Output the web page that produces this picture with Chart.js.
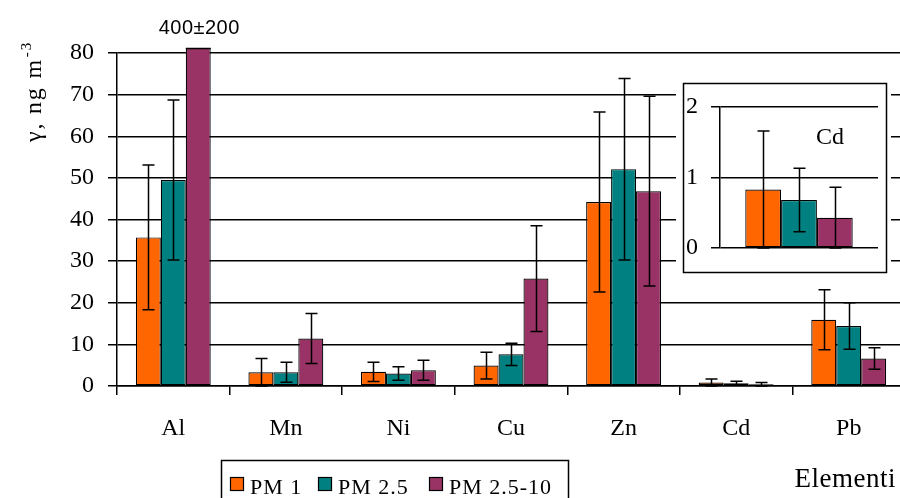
<!DOCTYPE html>
<html>
<head>
<meta charset="utf-8">
<script src="https://cdn.jsdelivr.net/npm/chart.js@4/dist/chart.umd.min.js"></script>
<style>
  html, body { margin: 0; padding: 0; background: #fff; }
  #wrap { position: relative; width: 900px; height: 498px; overflow: hidden; }
  #main { position: absolute; left: 0; top: 0; }
  #inset { position: absolute; left: 676px; top: 78px; }
</style>
</head>
<body>
<div id="wrap">
  <canvas id="main" width="908" height="498"></canvas>
  <canvas id="inset" width="215" height="199"></canvas>
</div>
<script>
// Element concentrations (ng/m3) by particle size fraction, with standard deviations
const categories = ['Al', 'Mn', 'Ni', 'Cu', 'Zn', 'Cd', 'Pb'];
const seriesNames = ['PM 1', 'PM 2.5', 'PM 2.5-10'];
const pm1      = [35.7, 3.3, 3.4, 4.9, 44.2, 0.83, 15.9];
const pm1Err   = [17.4, 3.3, 2.3, 3.2, 21.6, 0.83, 7.2];
const pm25     = [49.5, 3.3, 3.0, 7.6, 52.1, 0.68, 14.4];
const pm25Err  = [19.2, 2.4, 1.6, 2.7, 21.8, 0.45, 5.6];
const pm2510   = [400, 11.4, 3.8, 25.8, 46.8, 0.43, 6.6];
const pm2510Err= [200, 6.0, 2.4, 12.7, 22.8, 0.43, 2.6];
const yTicksMain = [0, 10, 20, 30, 40, 50, 60, 70, 80];
const yTicksInset = [0, 1, 2];
const insetCategory = 'Cd';

const colors = ['#FF6600', '#008080', '#993366'];
const SERIF = '"Liberation Serif", "Times New Roman", serif';
const SANS = '"Liberation Sans", Arial, sans-serif';

Chart.defaults.color = '#000';
Chart.defaults.animation = false;

const allValues = [pm1, pm25, pm2510];
const allErrors = [pm1Err, pm25Err, pm2510Err];

// Error bars (mean ± sd) drawn over each bar
const errorBars = {
  id: 'errorBars',
  afterDatasetsDraw(chart) {
    const ctx = chart.ctx, y = chart.scales.y, area = chart.chartArea;
    ctx.save();
    ctx.beginPath();
    ctx.rect(area.left - 20, area.top - 6, area.right - area.left + 40, area.bottom - area.top + 12);
    ctx.clip();
    ctx.strokeStyle = '#000';
    ctx.lineWidth = 1.5;
    chart.data.datasets.forEach((ds, i) => {
      const meta = chart.getDatasetMeta(i);
      meta.data.forEach((bar, j) => {
        const v = ds.data[j], e = ds.errors[j];
        if (v > y.max) {
          // bar runs off the scale: close its top edge at the clip line
          ctx.beginPath();
          ctx.moveTo(bar.x - bar.width / 2, area.top - 4.5);
          ctx.lineTo(bar.x + bar.width / 2, area.top - 4.5);
          ctx.stroke();
          return;
        }
        const top = y.getPixelForValue(v + e);
        const bot = y.getPixelForValue(Math.max(v - e, 0));
        const x = Math.round(bar.x) + 0.5;
        ctx.beginPath();
        ctx.moveTo(x, top); ctx.lineTo(x, bot);
        ctx.moveTo(x - 6, top); ctx.lineTo(x + 6, top);
        ctx.moveTo(x - 6, bot); ctx.lineTo(x + 6, bot);
        ctx.stroke();
      });
    });
    ctx.restore();
  }
};

// Texts of the main chart: off-scale value label, axis titles, legend
const mainDecor = {
  id: 'mainDecor',
  afterDraw(chart) {
    const ctx = chart.ctx, y = chart.scales.y;
    ctx.save();
    ctx.fillStyle = '#000';

    // value label for bars that run past the top of the axis
    ctx.font = '20px ' + SANS;
    ctx.textAlign = 'center';
    ctx.textBaseline = 'middle';
    ctx.letterSpacing = '0.5px';
    chart.data.datasets.forEach((ds, i) => {
      const meta = chart.getDatasetMeta(i);
      meta.data.forEach((bar, j) => {
        if (ds.data[j] > y.max) {
          ctx.fillText(ds.data[j] + '±' + ds.errors[j], bar.x + 1, chart.chartArea.top - 25);
        }
      });
    });

    // y axis title with superscript
    ctx.save();
    ctx.translate(41, 142);
    ctx.rotate(-Math.PI / 2);
    ctx.textAlign = 'left';
    ctx.textBaseline = 'alphabetic';
    ctx.letterSpacing = '1.8px';
    ctx.font = '24px ' + SERIF;
    const t = 'γ, ng m';
    ctx.fillText(t, 0, 0);
    const w = ctx.measureText(t).width;
    ctx.font = '15px ' + SERIF;
    ctx.fillText('-3', w + 1, -10);
    ctx.restore();

    // x axis title
    ctx.font = '27px ' + SERIF;
    ctx.textAlign = 'right';
    ctx.textBaseline = 'alphabetic';
    ctx.letterSpacing = '0.5px';
    ctx.fillText('Elementi', 896, 487);

    // legend
    ctx.lineWidth = 1.5;
    ctx.strokeStyle = '#000';
    ctx.strokeRect(221.5, 460.5, 347, 50);
    const boxX = [230, 318, 429];
    ctx.font = '22px ' + SERIF;
    ctx.textAlign = 'left';
    ctx.letterSpacing = '1px';
    chart.data.datasets.forEach((ds, i) => {
      ctx.fillStyle = ds.backgroundColor;
      ctx.fillRect(boxX[i] + 0.5, 477.5, 13, 13);
      ctx.lineWidth = 1.2;
      ctx.strokeRect(boxX[i] + 0.5, 477.5, 13, 13);
      ctx.fillStyle = '#000';
      ctx.fillText(ds.label, boxX[i] + 20, 494);
    });
    ctx.restore();
  }
};

const datasetsFor = (idx) => seriesNames.map((name, i) => ({
  label: name,
  data: idx == null ? allValues[i].slice() : [allValues[i][idx]],
  errors: idx == null ? allErrors[i].slice() : [allErrors[i][idx]],
  backgroundColor: colors[i],
  borderColor: '#000',
  borderWidth: 1.2,
  borderSkipped: false,
  categoryPercentage: idx == null ? 0.665 : 0.68,
  barPercentage: 1.0,
  clip: { left: 0, top: 5, right: 0, bottom: 0 }
}));

new Chart(document.getElementById('main'), {
  type: 'bar',
  data: { labels: categories, datasets: datasetsFor(null) },
  options: {
    responsive: false,
    devicePixelRatio: 1,
    layout: { padding: { left: 0, top: 53, right: 3, bottom: 0 } },
    plugins: { legend: { display: false }, tooltip: { enabled: false } },
    scales: {
      x: {
        offset: true,
        grid: { offset: true, drawOnChartArea: false, drawTicks: true, tickLength: 9, color: '#000', lineWidth: 1.5 },
        border: { color: '#000', width: 1.5 },
        ticks: { font: { family: SERIF, size: 24 }, color: '#000', padding: 19, maxRotation: 0 },
        afterFit(s) { s.height = 112; }
      },
      y: {
        min: yTicksMain[0],
        max: yTicksMain[yTicksMain.length - 1],
        afterBuildTicks(s) { s.ticks = yTicksMain.map(v => ({ value: v })); },
        grid: { color: '#000', lineWidth: 1.5, tickLength: 9 },
        border: { color: '#000', width: 1.5 },
        ticks: { font: { family: SERIF, size: 24 }, color: '#000', padding: 14 },
        afterFit(s) { s.width = 117; }
      }
    }
  },
  plugins: [errorBars, mainDecor]
});

// Inset: enlarged view of the small Cd values
const idx = categories.indexOf(insetCategory);
const insetDecor = {
  id: 'insetDecor',
  beforeDraw(chart) {
    const ctx = chart.ctx;
    ctx.save();
    ctx.fillStyle = '#fff';
    ctx.fillRect(0, 0, chart.width, chart.height);
    ctx.restore();
  },
  afterDraw(chart) {
    const ctx = chart.ctx;
    ctx.save();
    ctx.strokeStyle = '#000';
    ctx.lineWidth = 1.5;
    ctx.strokeRect(7.5, 5.5, 203, 189);
    ctx.fillStyle = '#000';
    ctx.font = '24px ' + SERIF;
    ctx.textAlign = 'center';
    ctx.textBaseline = 'middle';
    ctx.fillText(insetCategory, 154, 60);
    ctx.restore();
  }
};

new Chart(document.getElementById('inset'), {
  type: 'bar',
  data: { labels: [insetCategory], datasets: datasetsFor(idx) },
  options: {
    responsive: false,
    devicePixelRatio: 1,
    layout: { padding: { left: 0, top: 29, right: 13, bottom: 29 } },
    plugins: { legend: { display: false }, tooltip: { enabled: false } },
    scales: {
      x: { display: false },
      y: {
        min: yTicksInset[0],
        max: yTicksInset[yTicksInset.length - 1],
        afterBuildTicks(s) { s.ticks = yTicksInset.map(v => ({ value: v })); },
        grid: { color: '#000', lineWidth: 1.5, tickLength: 9 },
        border: { color: '#000', width: 1.5 },
        ticks: { font: { family: SERIF, size: 24 }, color: '#000', padding: 13 },
        afterFit(s) { s.width = 44; }
      }
    }
  },
  plugins: [insetDecor, errorBars]
});
</script>
</body>
</html>
